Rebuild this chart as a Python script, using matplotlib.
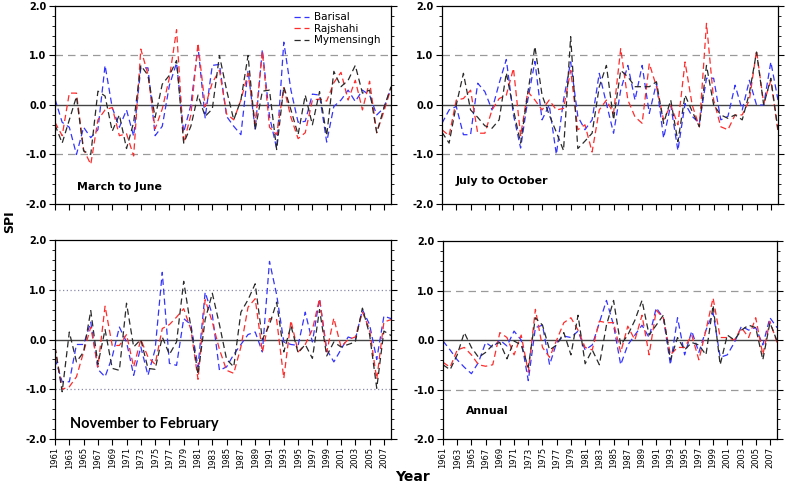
import numpy as np
import matplotlib.pyplot as plt
from matplotlib.ticker import MultipleLocator

years = np.arange(1961, 2009)
stations = ['Barisal', 'Rajshahi', 'Mymensingh']
colors = ['#3434ff', '#ff2c2c', '#2a2a2a']

# March to June
mj_barisal = [0.12, -0.35, -0.45, -1.0, -0.45, -0.66, -0.5, 0.8, -0.05, -0.45,
              -0.1, -0.63, 0.75, 0.75, -0.62, -0.43, 0.4, 0.85, -0.55, 0.0,
              1.18, -0.26, 0.8, 0.82, -0.23, -0.43, -0.6, 0.7, -0.5, 1.12,
              -0.23, -0.88, 1.27, 0.3, -0.35, -0.33, 0.22, 0.2, -0.75, -0.03,
              0.1, 0.3, 0.07, 0.3, 0.2, -0.2, -0.06, 0.35]
mj_rajshahi = [-0.35, -0.62, 0.24, 0.24, -0.9, -1.2, -0.3, -0.1, -0.05, -0.62,
               -0.58, -1.03, 1.13, 0.62, -0.48, -0.08, 0.55, 1.52, -0.77, -0.2,
               1.25, -0.03, 0.45, 0.7, -0.18, -0.3, 0.1, 0.64, -0.38, 1.08,
               -0.45, -0.6, 0.35, -0.25, -0.68, -0.56, 0.1, 0.12, 0.08, 0.45,
               0.66, 0.1, 0.5, -0.1, 0.48, -0.56, -0.13, 0.34]
mj_mymensingh = [-0.4, -0.77, -0.3, 0.17, -0.93, -1.0, 0.28, 0.18, -0.53, -0.2,
                 -0.88, -0.35, 0.8, 0.6, -0.25, 0.42, 0.6, 0.9, -0.77, -0.43,
                 0.2, -0.23, -0.08, 1.0, 0.3, -0.3, 0.1, 1.0, -0.5, 0.28,
                 0.3, -0.9, 0.37, -0.1, -0.6, 0.2, -0.4, 0.27, -0.62, 0.68,
                 0.37, 0.5, 0.8, 0.24, 0.3, -0.56, -0.06, 0.37]

# July to October
jo_barisal = [-0.37, -0.1, -0.03, -0.6, -0.6, 0.44, 0.27, -0.1, 0.44, 0.92,
              -0.2, -0.87, 0.1, 0.88, -0.3, 0.0, -1.0, 0.1, 0.87, -0.23,
              -0.5, -0.3, 0.64, 0.03, -0.57, 0.3, 0.8, 0.1, 0.8, -0.17,
              0.44, -0.67, 0.0, -0.92, 0.03, -0.23, -0.37, 0.54, 0.54, -0.3,
              -0.23, 0.4, -0.1, 0.5, 0.0, 0.0, 0.87, 0.1]
jo_rajshahi = [-0.5, -0.62, 0.1, 0.13, 0.3, -0.57, -0.57, -0.1, 0.13, 0.2,
               0.74, -0.62, 0.27, 0.1, -0.1, 0.1, -0.1, -0.07, 0.7, -0.5,
               -0.4, -0.95, -0.1, 0.1, -0.17, 1.14, 0.1, -0.24, -0.37, 0.84,
               0.37, -0.3, 0.0, -0.4, 0.87, 0.0, -0.44, 1.65, 0.1, -0.44,
               -0.5, -0.2, -0.2, 0.1, 1.1, 0.03, 0.5, -0.54]
jo_mymensingh = [-0.55, -0.77, 0.0, 0.64, -0.1, -0.25, -0.42, -0.47, -0.3, 0.65,
                 -0.1, -0.77, 0.24, 1.18, 0.2, -0.2, -0.55, -0.92, 1.38, -0.88,
                 -0.73, -0.57, 0.37, 0.8, -0.3, 0.7, 0.57, 0.37, 0.37, 0.37,
                 0.47, -0.37, 0.1, -0.74, 0.2, -0.13, -0.44, 0.8, 0.0, -0.2,
                 -0.27, -0.2, -0.3, 0.24, 1.07, 0.0, 0.54, -0.5]

# November to February
nf_barisal = [-0.38, -0.85, -0.85, -0.1, -0.1, 0.35, -0.6, -0.75, -0.35, 0.25,
              -0.05, -0.72, -0.15, -0.72, -0.2, 1.35, -0.48, -0.52, 0.42, 0.3,
              -0.55, 0.95, 0.5, -0.62, -0.55, -0.3, -0.1, 0.1, 0.15, -0.25,
              1.57, 0.9, -0.05, -0.1, -0.12, 0.55, -0.05, 0.82, -0.2, -0.45,
              -0.2, 0.05, 0.0, 0.6, 0.3, -0.4, 0.47, 0.42]
nf_rajshahi = [-0.15, -1.0, -0.95, -0.75, -0.25, 0.25, -0.55, 0.67, -0.12, -0.12,
               0.1, -0.55, 0.0, -0.35, -0.5, 0.22, 0.3, 0.45, 0.62, 0.2,
               -0.8, 0.8, 0.35, -0.2, -0.62, -0.68, -0.15, 0.65, 0.82, -0.25,
               0.42, 0.4, -0.78, 0.38, -0.25, -0.1, 0.2, 0.82, -0.25, 0.43,
               -0.15, 0.0, 0.05, 0.55, 0.2, -0.8, 0.35, 0.4]
nf_mymensingh = [-0.15, -1.05, 0.15, -0.45, -0.25, 0.58, -0.5, 0.2, -0.58, -0.62,
                 0.73, -0.15, 0.0, -0.58, -0.6, 0.05, -0.3, -0.05, 1.17, 0.25,
                 -0.7, 0.4, 0.93, 0.3, -0.4, -0.55, 0.55, 0.8, 1.12, 0.0,
                 0.3, 0.75, -0.25, 0.28, -0.27, -0.1, -0.38, 0.6, -0.33, -0.05,
                 -0.15, -0.1, -0.05, 0.63, 0.1, -0.98, 0.17, 0.08]

# Annual
an_barisal = [-0.02, -0.2, -0.4, -0.55, -0.68, -0.45, -0.05, -0.15, 0.0, -0.12,
              0.18, 0.0, -0.82, 0.25, 0.3, -0.5, -0.05, 0.08, 0.05, 0.18,
              -0.2, -0.1, 0.35, 0.8, 0.3, -0.5, -0.1, 0.1, 0.3, 0.05,
              0.65, 0.45, -0.5, 0.45, -0.3, 0.18, -0.25, 0.2, 0.55, -0.35,
              -0.3, -0.05, 0.28, 0.2, 0.25, -0.1, 0.45, 0.25]
an_rajshahi = [-0.45, -0.55, -0.2, -0.15, -0.3, -0.5, -0.53, -0.5, 0.15, 0.05,
               -0.3, 0.1, -0.65, 0.62, -0.15, -0.35, 0.0, 0.35, 0.45, 0.2,
               -0.15, -0.2, 0.38, 0.35, 0.35, -0.25, 0.28, 0.0, 0.5, -0.3,
               0.6, 0.45, -0.3, -0.15, -0.15, 0.1, -0.4, 0.2, 0.85, 0.05,
               0.05, 0.0, 0.25, 0.05, 0.45, -0.3, 0.38, -0.05]
an_mymensingh = [-0.5, -0.6, -0.3, 0.15, -0.15, -0.35, -0.25, -0.1, -0.05, -0.38,
                 -0.02, -0.1, -0.55, 0.45, 0.3, -0.2, -0.1, 0.15, -0.3, 0.5,
                 -0.48, -0.2, -0.5, 0.3, 0.8, -0.1, 0.1, 0.4, 0.8, 0.1,
                 0.3, 0.5, -0.4, 0.05, -0.2, -0.05, -0.1, -0.3, 0.7, -0.5,
                 0.1, 0.0, 0.2, 0.3, 0.25, -0.4, 0.35, -0.02]

tick_years = np.arange(1961, 2008, 2)

fig = plt.figure(figsize=(7.86, 4.88), dpi=100)

def panel(rect, series, label, label_xy, label_kw, ref_style, xlabels):
    ax = fig.add_axes(rect)
    ax.axhline(1, color=ref_style[0], ls=ref_style[1], lw=0.9, dashes=ref_style[2], zorder=1)
    ax.axhline(-1, color=ref_style[0], ls=ref_style[1], lw=0.9, dashes=ref_style[2], zorder=1)
    ax.axhline(0, color='#444444', lw=1.0, zorder=1)
    for vals, c, name in zip(series, colors, stations):
        ax.plot(years, vals, color=c, lw=0.9, dashes=(5, 3), label=name, zorder=2)
    ax.set_xlim(1961, 2008)
    ax.set_ylim(-2, 2)
    ax.yaxis.set_minor_locator(MultipleLocator(0.2))
    ax.set_yticks([-2, -1, 0, 1, 2])
    ax.set_yticklabels(['-2.0', '-1.0', '0.0', '1.0', '2.0'], fontweight='bold', fontsize=7)
    ax.set_xticks(tick_years)
    if xlabels:
        ax.set_xticklabels([str(y) for y in tick_years], rotation=90, fontsize=6)
    else:
        ax.set_xticklabels([])
    ax.tick_params(axis='y', which='both', direction='out', right=True, left=True)
    ax.tick_params(axis='y', which='major', length=4, width=0.8, pad=2)
    ax.tick_params(axis='y', which='minor', length=2.5, width=0.6)
    ax.tick_params(axis='x', direction='out', length=4, width=0.8, pad=2, top=False)
    for s in ax.spines.values():
        s.set_linewidth(0.9)
    ax.text(label_xy[0], label_xy[1], label, transform=ax.transAxes,
            fontweight='bold', va='center', ha='left', **label_kw)
    return ax

gray = ('#9a9a9a', '--', (6, 4))
dotted = ('#8a8aaa', ':', (1, 2))

ax1 = panel([0.070, 0.582, 0.4275, 0.4057], [mj_barisal, mj_rajshahi, mj_mymensingh],
            'March to June', (0.065, 0.088), {'fontsize': 7.8}, gray, False)
ax2 = panel([0.5623, 0.582, 0.4275, 0.4057], [jo_barisal, jo_rajshahi, jo_mymensingh],
            'July to October', (0.04, 0.118), {'fontsize': 7.9}, gray, False)
ax3 = panel([0.070, 0.1004, 0.4275, 0.4078], [nf_barisal, nf_rajshahi, nf_mymensingh],
            'November to February', (0.045, 0.075), {'fontsize': 10.5, 'family': 'Lato'}, dotted, True)
ax4 = panel([0.5636, 0.1004, 0.4250, 0.4057], [an_barisal, an_rajshahi, an_mymensingh],
            'Annual', (0.07, 0.14), {'fontsize': 7.8}, gray, True)

ax1.legend(loc='upper left', bbox_to_anchor=(0.70, 0.99), frameon=False, fontsize=7.5,
           handlelength=1.4, handletextpad=0.5, labelspacing=0.15, borderaxespad=0)

fig.text(0.012, 0.545, 'SPI', rotation=90, fontweight='bold', fontsize=9, va='center', ha='center')
fig.text(0.525, 0.022, 'Year', fontweight='bold', fontsize=10, va='center', ha='center')

fig.savefig('out.png', dpi=100)
